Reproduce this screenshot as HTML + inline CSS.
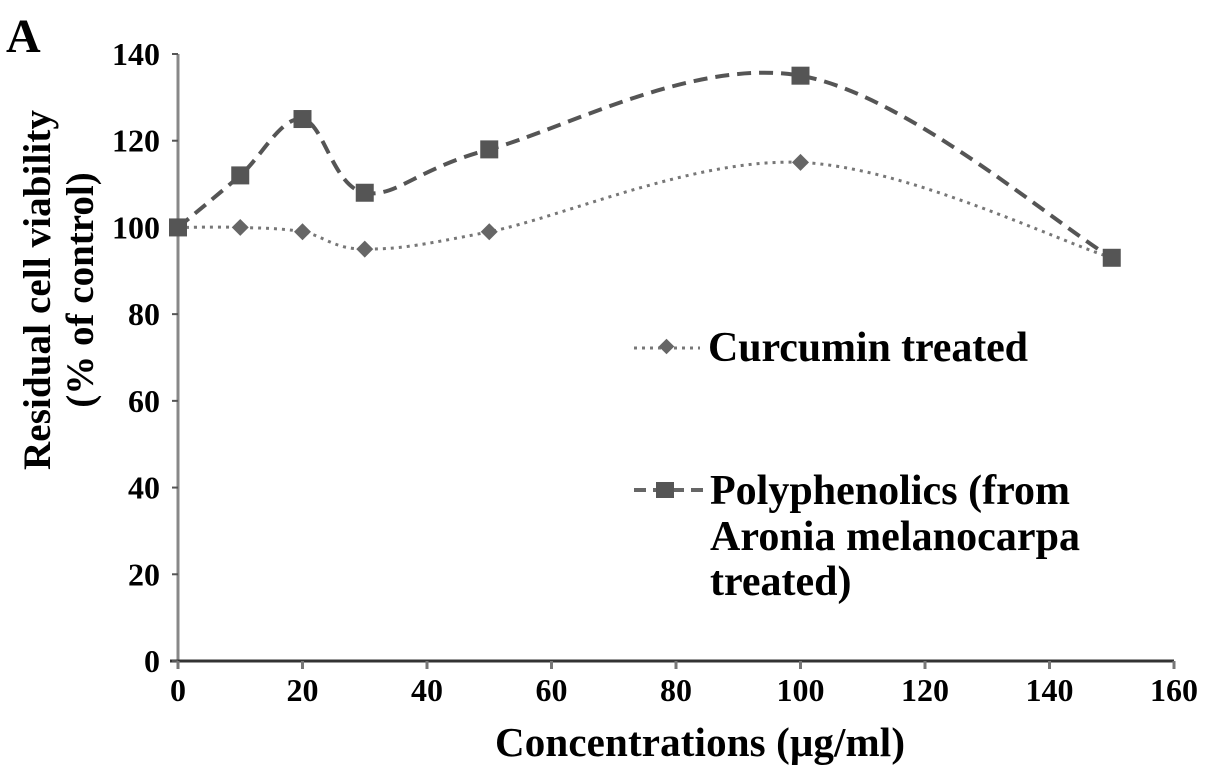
<!DOCTYPE html>
<html><head><meta charset="utf-8"><style>
body{margin:0;background:#fff;}
svg{display:block;font-family:"Liberation Serif",serif;font-weight:bold;}
</style></head><body>
<svg id="chart" width="1205" height="777">
<text x="6" y="52" font-size="48">A</text>
<g id="axes"></g>
<g id="series"></g>
<text x="700" y="756" font-size="41" text-anchor="middle" textLength="410">Concentrations (μg/ml)</text>
<text transform="translate(50,290) rotate(-90)" font-size="39" text-anchor="middle" textLength="360">Residual cell viability</text>
<text transform="translate(93,290) rotate(-90)" font-size="39" text-anchor="middle">(% of control)</text>
<g>
<line x1="634" y1="348" x2="700" y2="348" stroke="#777" stroke-width="3" stroke-dasharray="3,5"/>
<rect x="661" y="341" width="11" height="11" fill="#666" transform="rotate(45 666.5 346.5)"/>
<text x="708" y="361" font-size="42" textLength="320">Curcumin treated</text>
<line x1="634" y1="490" x2="703" y2="490" stroke="#666" stroke-width="4" stroke-dasharray="12,7"/>
<rect x="656" y="482" width="18" height="16" fill="#555"/>
<text x="710" y="504" font-size="42" textLength="360">Polyphenolics (from</text>
<text x="710" y="550" font-size="42" textLength="370">Aronia melanocarpa</text>
<text x="710" y="595" font-size="42">treated)</text>
</g>
</svg>
<script>
const xValues=[0,10,20,30,50,100,150];
const curcumin=[100,100,99,95,99,115,93];
const polyphenolics=[100,112,125,108,118,135,93];
const xTicks=[0,20,40,60,80,100,120,140,160];
const yTicks=[0,20,40,60,80,100,120,140];
const X0=178,X1=1174,Y0=661,Y1=54;
const sx=v=>X0+(v/160)*(X1-X0);
const sy=v=>Y0-(v/140)*(Y0-Y1);
const NS="http://www.w3.org/2000/svg";
const axes=document.getElementById('axes'),ser=document.getElementById('series');
function mk(tag,at,parent){const e=document.createElementNS(NS,tag);for(const k in at)e.setAttribute(k,at[k]);parent.appendChild(e);return e;}
let ya=mk('line',{x1:X0,y1:Y1,x2:X0,y2:Y0+8,stroke:'#888','stroke-width':3},axes);


let xa=mk('line',{x1:X0-8,y1:Y0,x2:X1,y2:Y0,stroke:'#333','stroke-width':3},axes);


yTicks.forEach(t=>{
 mk('line',{x1:X0-6,y1:sy(t),x2:X0,y2:sy(t),stroke:'#555','stroke-width':2},axes);
 const tx=mk('text',{x:160,y:sy(t)+11,'font-size':32,'text-anchor':'end'},axes);tx.textContent=t;
 
 
});
xTicks.forEach(t=>{
 mk('line',{x1:sx(t),y1:Y0,x2:sx(t),y2:Y0+8,stroke:'#777','stroke-width':3},axes);
 const tx=mk('text',{x:sx(t),y:Y0+40,'font-size':32,'text-anchor':'middle'},axes);tx.textContent=t;
 
 
});
function path(vals){
 const p=vals.map((v,i)=>[sx(xValues[i]),sy(v)]);
 let d=`M${p[0][0]},${p[0][1]}`;
 for(let i=0;i<p.length-1;i++){
  const a=p[Math.max(0,i-1)],b=p[i],c=p[i+1],e=p[Math.min(p.length-1,i+2)];
  const t=0.34;
  const c1=[b[0]+(c[0]-a[0])*t/2,b[1]+(c[1]-a[1])*t/2];
  const c2=[c[0]-(e[0]-b[0])*t/2,c[1]-(e[1]-b[1])*t/2];
  d+=` C${c1[0]},${c1[1]} ${c2[0]},${c2[1]} ${c[0]},${c[1]}`;
 }
 return d;
}
let l1=mk('path',{d:path(curcumin),fill:'none',stroke:'#777','stroke-width':3,'stroke-dasharray':'3,5'},ser);


let l2=mk('path',{d:path(polyphenolics),fill:'none',stroke:'#555','stroke-width':4,'stroke-dasharray':'14,8'},ser);


curcumin.forEach((v,i)=>{
 const x=sx(xValues[i]),y=sy(v);
 const m=mk('rect',{x:x-6,y:y-6,width:12,height:12,fill:'#666',transform:`rotate(45 ${x} ${y})`},ser);
 
 
});
polyphenolics.forEach((v,i)=>{
 const x=sx(xValues[i]),y=sy(v);
 const m=mk('rect',{x:x-9,y:y-9,width:18,height:18,fill:'#555'},ser);
 
 
});
</script>
</body></html>
